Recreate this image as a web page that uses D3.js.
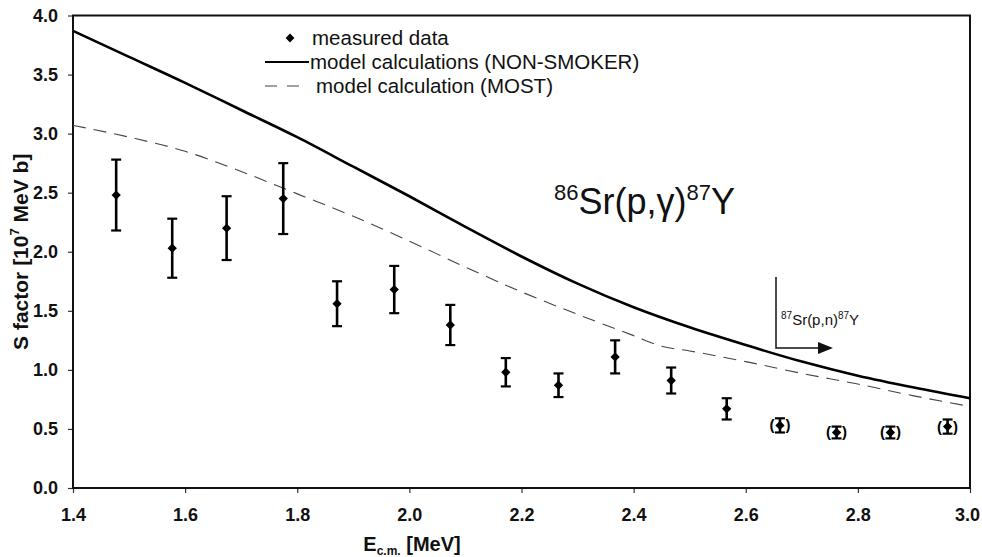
<!DOCTYPE html>
<html>
<head>
<meta charset="utf-8">
<script src="https://cdn.jsdelivr.net/npm/d3@7"></script>
<style>
    body { margin: 0; background: #fff; }
    svg text { font-family: "Liberation Sans", Arial, sans-serif; }
    svg text.narrow { font-family: "Liberation Sans Narrow", "Arial Narrow", "Liberation Sans", sans-serif; }
</style>
</head>
<body>
<div id="chart"></div>
<script>

// Measured S factors with errors
const energies = [1.477, 1.577, 1.674, 1.775, 1.871, 1.973, 2.073, 2.172, 2.266, 2.367, 2.467, 2.566, 2.661, 2.762, 2.858, 2.960];
const sFactor = [2.48, 2.03, 2.20, 2.45, 1.56, 1.68, 1.38, 0.98, 0.87, 1.11, 0.91, 0.67, 0.53, 0.47, 0.47, 0.52];
const sError = [0.30, 0.25, 0.27, 0.30, 0.19, 0.20, 0.17, 0.12, 0.10, 0.14, 0.11, 0.09, 0.06, 0.05, 0.05, 0.06];
// last four points are drawn in parentheses
const bracketed = [false, false, false, false, false, false, false, false, false, false, false, false, true, true, true, true];

// Model curves
const nsEnergy = [1.4, 1.5, 1.6, 1.7, 1.8, 1.9, 2.0, 2.1, 2.2, 2.3, 2.4, 2.5, 2.6, 2.7, 2.8, 2.9, 3.0];
const nsS = [3.87, 3.65, 3.43, 3.20, 2.97, 2.72, 2.47, 2.21, 1.96, 1.73, 1.53, 1.36, 1.21, 1.07, 0.95, 0.85, 0.76];
const mostEnergy = [1.4, 1.5, 1.6, 1.7, 1.8, 1.9, 2.0, 2.1, 2.2, 2.3, 2.4, 2.45, 2.5, 2.6, 2.7, 2.8, 2.9, 3.0];
const mostS = [3.07, 2.97, 2.85, 2.68, 2.49, 2.30, 2.09, 1.87, 1.66, 1.47, 1.29, 1.20, 1.16, 1.07, 0.97, 0.88, 0.78, 0.69];

const xTicks = [1.4, 1.6, 1.8, 2.0, 2.2, 2.4, 2.6, 2.8, 3.0];
const yTicks = [0.0, 0.5, 1.0, 1.5, 2.0, 2.5, 3.0, 3.5, 4.0];

const width = 982, height = 557;
const margin = { left: 73, right: 12, top: 15.5, bottom: 69 };

const svg = d3.select("#chart").append("svg")
    .attr("width", width)
    .attr("height", height);

const x = d3.scaleLinear().domain([1.4, 3.0]).range([margin.left, width - margin.right]);
const y = d3.scaleLinear().domain([0, 4]).range([height - margin.bottom, margin.top]);

// Axes
svg.append("g")
    .attr("transform", "translate(0," + y(0) + ")")
    .call(d3.axisBottom(x).tickValues(xTicks).tickFormat(d3.format(".1f")).tickSize(5).tickPadding(15))
    .call(g => g.select(".domain").remove())
    .call(g => g.selectAll("line").attr("stroke", "#333").attr("stroke-width", 1.2))
    .call(g => g.selectAll("text").attr("class", "narrow").attr("font-size", 18).attr("font-weight", "bold").attr("fill", "#111"))
    .call(g => g.selectAll("text").filter(d => d === 3.0).attr("dx", -3));

svg.append("g")
    .attr("transform", "translate(" + x(1.4) + ",0)")
    .call(d3.axisLeft(y).tickValues(yTicks).tickFormat(d3.format(".1f")).tickSize(5).tickPadding(10))
    .call(g => g.select(".domain").remove())
    .call(g => g.selectAll("line").attr("stroke", "#333").attr("stroke-width", 1.2))
    .call(g => g.selectAll("text").attr("class", "narrow").attr("font-size", 18).attr("font-weight", "bold").attr("fill", "#111"));

// Frame
svg.append("rect")
    .attr("x", x(1.4))
    .attr("y", y(4))
    .attr("width", x(3.0) - x(1.4))
    .attr("height", y(0) - y(4))
    .attr("fill", "none")
    .attr("stroke", "#111")
    .attr("stroke-width", 2);

// Model lines
const nsLine = d3.line().x((d, i) => x(nsEnergy[i])).y(d => y(d)).curve(d3.curveMonotoneX);
const mostLine = d3.line().x((d, i) => x(mostEnergy[i])).y(d => y(d)).curve(d3.curveMonotoneX);

svg.append("path")
    .attr("d", mostLine(mostS))
    .attr("fill", "none")
    .attr("stroke", "#444")
    .attr("stroke-width", 1.1)
    .attr("stroke-dasharray", "13,8");

svg.append("path")
    .attr("d", nsLine(nsS))
    .attr("fill", "none")
    .attr("stroke", "#000")
    .attr("stroke-width", 2.6);

// Measured data with error bars
const pts = svg.selectAll(".pt")
    .data(sFactor)
    .enter().append("g")
    .attr("class", "pt");

const capW = 5;

pts.append("line")
    .attr("x1", (d, i) => x(energies[i])).attr("x2", (d, i) => x(energies[i]))
    .attr("y1", (d, i) => y(d + sError[i])).attr("y2", (d, i) => y(d - sError[i]))
    .attr("stroke", "#000").attr("stroke-width", 2.6);

pts.append("line")
    .attr("x1", (d, i) => x(energies[i]) - capW).attr("x2", (d, i) => x(energies[i]) + capW)
    .attr("y1", (d, i) => y(d + sError[i])).attr("y2", (d, i) => y(d + sError[i]))
    .attr("stroke", "#000").attr("stroke-width", 2.2);

pts.append("line")
    .attr("x1", (d, i) => x(energies[i]) - capW).attr("x2", (d, i) => x(energies[i]) + capW)
    .attr("y1", (d, i) => y(d - sError[i])).attr("y2", (d, i) => y(d - sError[i]))
    .attr("stroke", "#000").attr("stroke-width", 2.2);

pts.append("path")
    .attr("d", d3.symbol().type(d3.symbolDiamond2).size(55))
    .attr("transform", (d, i) => "translate(" + x(energies[i]) + "," + y(d) + ")")
    .attr("fill", "#000");

// parentheses round the last points
pts.each(function(d, i) {
    if (!bracketed[i]) return;
    const g = d3.select(this);
    const cx = x(energies[i]);
    const cy = y(d);
    g.append("text").attr("x", cx - 8).attr("y", cy + 5).attr("text-anchor", "middle")
        .attr("font-size", 15).attr("font-weight", "bold").text("(");
    g.append("text").attr("x", cx + 8).attr("y", cy + 5).attr("text-anchor", "middle")
        .attr("font-size", 15).attr("font-weight", "bold").text(")");
});

// Legend
const legend = svg.append("g").attr("font-size", 20.5).attr("fill", "#111");

legend.append("path")
    .attr("d", d3.symbol().type(d3.symbolDiamond2).size(50))
    .attr("transform", "translate(290,38)")
    .attr("fill", "#000");
legend.append("text").attr("x", 312).attr("y", 45).text("measured data");

legend.append("line")
    .attr("x1", 265).attr("x2", 309).attr("y1", 62).attr("y2", 62)
    .attr("stroke", "#000").attr("stroke-width", 2);
legend.append("text").attr("x", 310).attr("y", 69).text("model calculations (NON-SMOKER)");

legend.append("line")
    .attr("x1", 265).attr("x2", 309).attr("y1", 86).attr("y2", 86)
    .attr("stroke", "#444").attr("stroke-width", 1.1).attr("stroke-dasharray", "12,10");
legend.append("text").attr("x", 316).attr("y", 93).text("model calculation (MOST)");

// Reaction label
const react = svg.append("text")
    .attr("x", 554).attr("y", 214)
    .attr("font-size", 36).attr("fill", "#111");
react.append("tspan").attr("font-size", 22).attr("dy", -14).text("86");
react.append("tspan").attr("dy", 14).text("Sr(p,\u03b3)");
react.append("tspan").attr("font-size", 22).attr("dy", -14).text("87");
react.append("tspan").attr("dy", 14).text("Y");

// (p,n) threshold marker
const thr = svg.append("g");
thr.append("path")
    .attr("d", "M776,277 L776,348 L820,348")
    .attr("fill", "none").attr("stroke", "#111").attr("stroke-width", 1.5);
thr.append("path")
    .attr("d", "M833,348 L818,342 L818,354 Z")
    .attr("fill", "#111");
const pn = thr.append("text").attr("x", 781).attr("y", 325).attr("font-size", 15).attr("fill", "#111");
pn.append("tspan").attr("font-size", 10).attr("dy", -6).text("87");
pn.append("tspan").attr("dy", 6).text("Sr(p,n)");
pn.append("tspan").attr("font-size", 10).attr("dy", -6).text("87");
pn.append("tspan").attr("dy", 6).text("Y");

// Axis titles
const xt = svg.append("text")
    .attr("class", "narrow")
    .attr("x", 412).attr("y", 551)
    .attr("text-anchor", "middle")
    .attr("font-size", 20).attr("font-weight", "bold").attr("fill", "#111");
xt.append("tspan").text("E");
xt.append("tspan").attr("font-size", 12).attr("dy", 4).text("c.m.");
xt.append("tspan").attr("dy", -4).text(" [MeV]");

const yt = svg.append("text")
    .attr("transform", "translate(28," + y(2) + ") rotate(-90)")
    .attr("text-anchor", "middle")
    .attr("font-size", 21).attr("font-weight", "bold").attr("fill", "#111");
yt.append("tspan").text("S factor [10");
yt.append("tspan").attr("font-size", 13).attr("dy", -9).text("7");
yt.append("tspan").attr("dy", 9).text(" MeV b]");

</script>
</body>
</html>
